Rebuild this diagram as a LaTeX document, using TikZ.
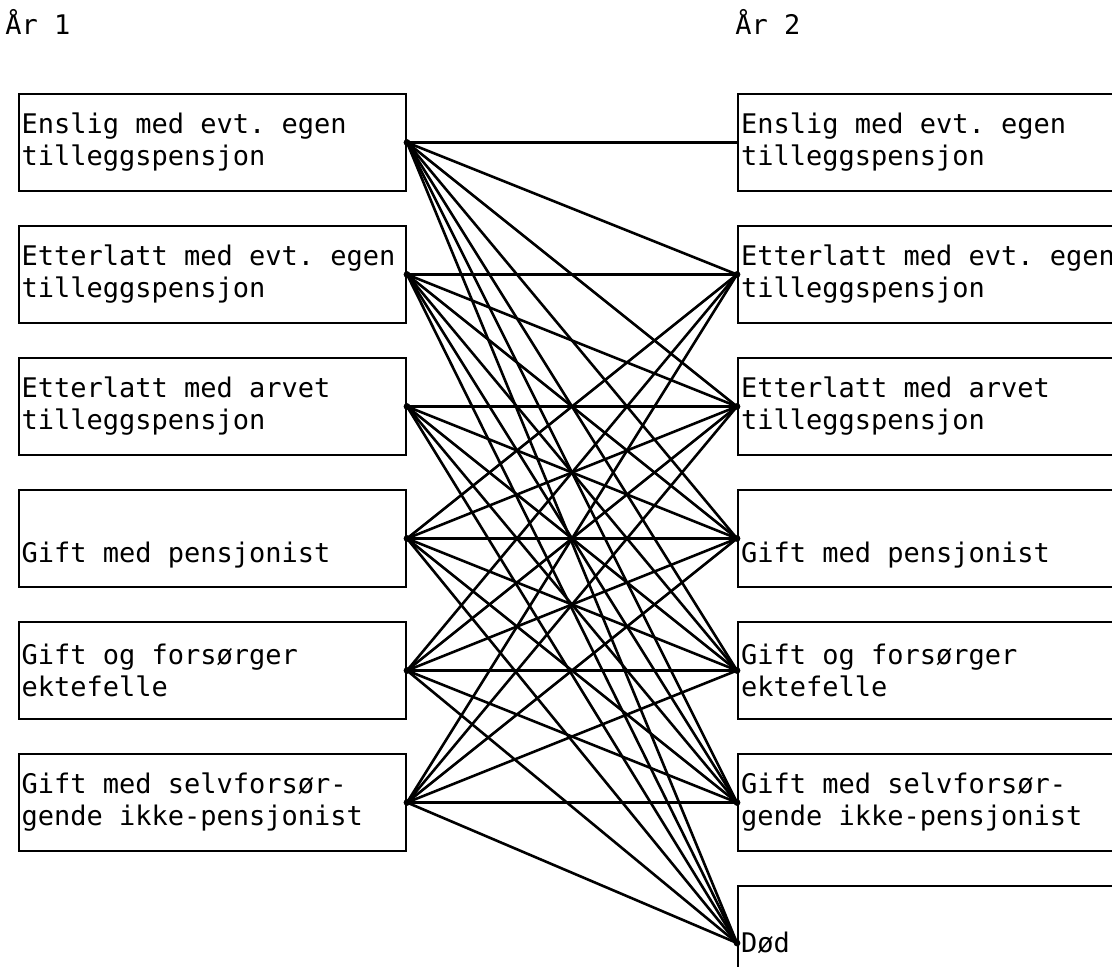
\documentclass[tikz,border=0pt]{standalone}
\usepackage{fontspec}
\setmonofont{DejaVu Sans Mono}
\usepackage{tikz}
\usetikzlibrary{positioning}
\newcommand{\trfont}{\ttfamily\fontsize{13.5}{16}\selectfont}
% fixed-width spaces, as on a typewriter (align=left would narrow them)
\newcommand{\trspaces}{\spaceskip=0.602em\xspaceskip=0.602em\relax}
\tikzset{
  tr-box/.style={
    draw, line width=1pt, rectangle, font=\trfont, align=left,
    execute at begin node=\trspaces,
    minimum width=193.5pt, text width=191pt, minimum height=48.5pt,
    inner xsep=0.6pt, inner ysep=0pt
  },
  tr-boxr/.style={tr-box, minimum width=220pt, text width=217pt},
  tr-head/.style={font=\trfont, anchor=base west, inner sep=0pt},
  tr-line/.style={line width=1.3pt, line cap=round},
  tr-dot/.style={fill=black}
}
\begin{document}
\begin{tikzpicture}[x=0.5pt, y=-0.5pt, node distance=16.5pt]
\useasboundingbox (0,0) rectangle (1112,967);
\clip (0,0) rectangle (1112,967);

\node[tr-head] (ar1) at (5,35) {År 1};
\node[tr-head] (ar2) at (735,35) {År 2};

% year 1
\node[tr-box, anchor=north west] (l1) at (18,93)
  {Enslig med evt. egen\\tilleggspensjon};
\node[tr-box, below=of l1] (l2) {Etterlatt med evt. egen\\tilleggspensjon};
\node[tr-box, below=of l2] (l3) {Etterlatt med arvet\\tilleggspensjon};
\node[tr-box, below=of l3] (l4) {\strut\\Gift med pensjonist};
\node[tr-box, below=of l4] (l5) {Gift og forsørger\\ektefelle};
\node[tr-box, below=of l5] (l6) {Gift med selvforsør-\\gende ikke-pensjonist};

% year 2
\node[tr-boxr, anchor=north west] (r1) at (737,93)
  {Enslig med evt. egen\\tilleggspensjon};
\node[tr-boxr, below=of r1] (r2) {Etterlatt med evt. egen\\tilleggspensjon};
\node[tr-boxr, below=of r2] (r3) {Etterlatt med arvet\\tilleggspensjon};
\node[tr-boxr, below=of r3] (r4) {\strut\\Gift med pensjonist};
\node[tr-boxr, below=of r4] (r5) {Gift og forsørger\\ektefelle};
\node[tr-boxr, below=of r5] (r6) {Gift med selvforsør-\\gende ikke-pensjonist};
\node[tr-boxr, below=of r6, minimum height=57pt] (r7) {Død};

% possible transitions: state in year 1 / first state reachable in year 2
\foreach \i/\first in {1/1, 2/2, 3/3, 4/2, 5/2, 6/2}
  \foreach \j in {\first,...,7}
    \draw[tr-line] (l\i.east) -- (r\j.west);
\foreach \i in {1,...,6}
  \fill[tr-dot] (l\i.east) circle (1.7pt);
\foreach \j in {2,...,7}
  \fill[tr-dot] (r\j.west) circle (1.7pt);
\end{tikzpicture}
\end{document}
